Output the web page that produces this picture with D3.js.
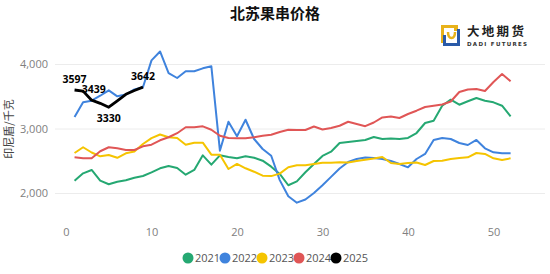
<!DOCTYPE html>
<html>
<head>
<meta charset="utf-8">
<script src="https://cdn.jsdelivr.net/npm/d3@7"></script>
<style>
  body { margin: 0; background: #fff; }
  svg { display: block; font-family: "Noto Sans CJK SC", "Noto Sans", sans-serif; }
  .tick text { fill: #808080; font-size: 11px; }
</style>
</head>
<body>
<svg id="chart" width="550" height="274"></svg>
<script>
const years = ["2021", "2022", "2023", "2024", "2025"];
const colors = ["#25a872", "#3f83dd", "#f5c400", "#e05656", "#000000"];

// weekly price, week = index + 1
const v2021 = [2191, 2305, 2357, 2191, 2135, 2175, 2197, 2237, 2264, 2321, 2383, 2419, 2388, 2284, 2357, 2584, 2439, 2584, 2558, 2538, 2569, 2547, 2501, 2408,
  2295, 2120, 2180, 2321, 2450, 2574, 2640, 2775, 2790, 2806, 2822, 2868, 2837, 2845, 2837, 2853, 2930, 3085, 3121, 3353, 3447, 3369, 3422, 3473, 3431, 3406, 3353, 3189];
const v2022 = [3178, 3406, 3431, 3508, 3592, 3499, 3527, 3605, 3639, 4057, 4194, 3860, 3783, 3887, 3887, 3933, 3964, 2656, 3105, 2879, 3136, 2837, 2682, 2578,
  2200, 1950, 1850, 1900, 2000, 2120, 2250, 2380, 2481, 2527, 2550, 2543, 2527, 2496, 2450, 2398, 2527, 2605, 2822, 2853, 2837, 2775, 2744, 2822, 2693, 2631, 2615, 2615];
const v2023 = [2620, 2709, 2628, 2569, 2589, 2546, 2616, 2643, 2760, 2850, 2907, 2864, 2853, 2749, 2780, 2780, 2594, 2594, 2372, 2450, 2383, 2330, 2268, 2262,
  2300, 2400, 2430, 2432, 2450, 2470, 2470, 2476, 2473, 2496, 2516, 2535, 2558, 2465, 2450, 2465, 2473, 2434, 2496, 2501, 2527, 2543, 2553, 2620, 2605, 2538, 2512, 2538];
const v2024 = [2553, 2538, 2538, 2647, 2709, 2693, 2667, 2667, 2724, 2749, 2817, 2864, 2927, 3019, 3019, 3034, 2981, 2888, 2853, 2848, 2848, 2864, 2888, 2904,
  2946, 2981, 2977, 2977, 3031, 2984, 3008, 3043, 3105, 3070, 3036, 3093, 3171, 3186, 3163, 3225, 3276, 3333, 3353, 3372, 3419, 3566, 3605, 3612, 3581, 3721, 3845, 3732];
const v2025 = [3597, 3580, 3439, 3390, 3330, 3430, 3530, 3590, 3642];
const series = [v2021, v2022, v2023, v2024, v2025];

// labelled points of 2025: week and whether label sits below
const labelWeeks = [1, 3, 5, 9];
const labelBelow = [false, false, true, false];

const xTicks = [0, 10, 20, 30, 40, 50];
const yTicks = [2000, 3000, 4000];

const svg = d3.select("#chart");

const x = d3.scaleLinear().domain([0, 55]).range([66, 536.25]);
const y = d3.scaleLinear().domain([1500, 4500]).range([225.25, 31.75]);

// grid + y labels
svg.append("g")
  .attr("transform", "translate(55,0)")
  .call(d3.axisLeft(y).tickValues(yTicks).tickSize(-490).tickPadding(7).tickFormat(d3.format(",")))
  .call((g) => g.select(".domain").remove())
  .call((g) => g.selectAll(".tick line").attr("stroke", "#ececec"));

svg.append("g")
  .attr("transform", "translate(0,225)")
  .call(d3.axisBottom(x).tickValues(xTicks).tickSize(0).tickPadding(3))
  .call((g) => g.select(".domain").remove());

svg.selectAll(".tick text").attr("font-family", "'Segoe UI', 'Open Sans', 'Noto Sans', sans-serif");

const line = d3.line()
  .x((d, i) => x(i + 1))
  .y((d) => y(d));

svg.append("g")
  .selectAll("path")
  .data(series)
  .join("path")
  .attr("fill", "none")
  .attr("stroke", (d, i) => colors[i])
  .attr("stroke-width", (d, i) => (i === 4 ? 2.8 : 2))
  .attr("stroke-linejoin", "round")
  .attr("d", line);

svg.append("g")
  .selectAll("text")
  .data(labelWeeks)
  .join("text")
  .attr("x", (w, i) => x(w) + (i === 1 ? 2 : 0))
  .attr("y", (w, i) => y(v2025[w - 1]) + (labelBelow[i] ? 15 : -7))
  .attr("text-anchor", "middle")
  .attr("font-size", 10.5)
  .attr("font-weight", "bold")
  .attr("font-family", "'Open Sans', 'Noto Sans', sans-serif")
  .attr("fill", "#000")
  .text((w) => v2025[w - 1]);

// title
svg.append("text")
  .attr("x", 275)
  .attr("y", 19)
  .attr("text-anchor", "middle")
  .attr("font-size", 15)
  .attr("font-weight", "bold")
  .attr("fill", "#111")
  .text("北苏果串价格");

// y axis title
svg.append("text")
  .attr("transform", "translate(13,129) rotate(-90)")
  .attr("text-anchor", "middle")
  .attr("font-size", 11)
  .attr("fill", "#444")
  .text("印尼盾/千克");

// legend
const legend = svg.append("g")
  .selectAll("g")
  .data(years)
  .join("g")
  .attr("transform", (d, i) => `translate(${188 + i * 37},258)`);
legend.append("circle").attr("r", 5.5).attr("fill", (d, i) => colors[i]);
legend.append("text")
  .attr("x", 7)
  .attr("y", 4)
  .attr("font-size", 11)
  .attr("font-family", "'Segoe UI', 'Open Sans', 'Noto Sans', sans-serif")
  .attr("fill", "#555")
  .text((d) => d);

// logo
const logo = svg.append("g").attr("transform", "translate(440,24)");
logo.append("path").attr("d", "M1,1 H18 V7 H14 V4 H4 V19 H1 Z").attr("fill", "#e8b21a");
logo.append("path").attr("d", "M3,22 V11 H6 V19 H17 V5 H20 V22 Z").attr("fill", "#2a5aa8");
logo.append("path").attr("d", "M8,8 C8,16 15,16 15,8").attr("fill", "none").attr("stroke", "#e8b21a").attr("stroke-width", 2.5);
logo.append("text")
  .attr("x", 27).attr("y", 12)
  .attr("font-size", 12.5).attr("font-weight", "bold").attr("letter-spacing", 2.3).attr("fill", "#222")
  .text("大地期货");
logo.append("text")
  .attr("x", 27).attr("y", 21.5)
  .attr("font-size", 5.5).attr("font-weight", "bold").attr("letter-spacing", 1.3).attr("fill", "#333")
  .attr("font-family", "'DejaVu Sans', sans-serif")
  .text("DADI FUTURES");
</script>
</body>
</html>
